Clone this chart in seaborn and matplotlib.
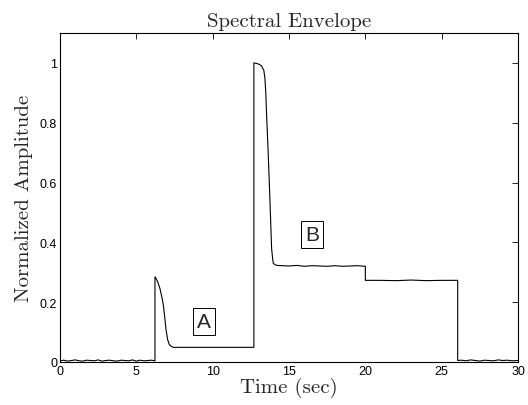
import numpy as np
import pandas as pd

import matplotlib
matplotlib.use('Agg')
import matplotlib.pyplot as plt
import seaborn as sns

sns.set_style('white')

# --- data ---
# quiet part before the first onset
noise_pre_t = [0.0, 0.25, 0.5, 0.75, 1.0, 1.25, 1.5, 1.75, 2.0, 2.25, 2.5, 2.75,
               3.0, 3.25, 3.5, 3.75, 4.0, 4.25, 4.5, 4.75, 5.0, 5.25, 5.5, 5.75, 6.0, 6.2]
noise_pre_a = [0.004, 0.006, 0.003, 0.005, 0.007, 0.004, 0.003, 0.006, 0.005, 0.004,
               0.007, 0.003, 0.005, 0.006, 0.004, 0.003, 0.006, 0.005, 0.004, 0.007,
               0.003, 0.006, 0.004, 0.005, 0.006, 0.004]

# segment A: onset, decay, low plateau
seg_a_t = [6.22, 6.22, 6.3, 6.4, 6.55, 6.68, 6.77, 6.86, 6.94, 7.05, 7.16, 7.3, 7.42,
           8.5, 9.5, 10.5, 11.5, 12.7]
seg_a_a = [0.004, 0.285, 0.278, 0.268, 0.245, 0.215, 0.19, 0.15, 0.11, 0.075, 0.058,
           0.052, 0.049, 0.049, 0.049, 0.049, 0.049, 0.049]

# segment B: onset, decay, plateau, step down
seg_b_t = [12.7, 12.7, 12.9, 13.05, 13.2, 13.35, 13.42, 13.48, 13.53, 13.62, 13.71,
           13.8, 13.86, 13.93, 13.97, 14.1, 14.19, 15.0, 15.5, 16.0, 16.5, 17.0, 17.5,
           18.0, 18.5, 19.0, 19.5, 20.0, 20.0, 21.0, 22.0, 23.0, 24.0, 25.0, 26.05]
seg_b_a = [0.049, 1.0, 0.998, 0.995, 0.99, 0.975, 0.95, 0.9, 0.83, 0.72, 0.6,
           0.47, 0.38, 0.345, 0.33, 0.325, 0.323, 0.321, 0.323, 0.32, 0.322, 0.321, 0.32,
           0.322, 0.32, 0.321, 0.322, 0.32, 0.273, 0.273, 0.272, 0.274, 0.272, 0.273, 0.273]

# quiet part after the sound ends
noise_post_t = [26.05, 26.3, 26.6, 26.9, 27.2, 27.5, 27.8, 28.1, 28.4, 28.7, 29.0, 29.3, 29.6, 30.0]
noise_post_a = [0.005, 0.006, 0.004, 0.007, 0.005, 0.003, 0.006, 0.005, 0.004, 0.007,
                0.005, 0.006, 0.004, 0.005]

xticks = [0, 5, 10, 15, 20, 25, 30]
yticks = [0, 0.2, 0.4, 0.6, 0.8, 1]
ytick_labels = ['0', '0.2', '0.4', '0.6', '0.8', '1']

labels = ['A', 'B']
label_t = [9.41, 16.52]
label_a = [0.135, 0.426]

df = pd.DataFrame({
    'Time': noise_pre_t + seg_a_t + seg_b_t + noise_post_t,
    'Amp': noise_pre_a + seg_a_a + seg_b_a + noise_post_a,
})

fig = plt.figure(figsize=(5.28, 4.06), dpi=100)
ax = fig.add_axes([60/528, 43/406, 458/528, 329/406])

sns.lineplot(data=df, x='Time', y='Amp', sort=False, estimator=None,
             color='black', linewidth=0.8, ax=ax)

ax.set_xlim(0, 30)
ax.set_ylim(0, 1.1)
ax.set_xticks(xticks)
ax.set_xticklabels([str(t) for t in xticks])
ax.set_yticks(yticks)
ax.set_yticklabels(ytick_labels)
ax.tick_params(direction='in', length=4, width=0.6, top=True, right=True,
               labelsize=9, pad=2, colors='black')
for lab in ax.get_xticklabels() + ax.get_yticklabels():
    lab.set_fontfamily('Liberation Sans')
for sp in ax.spines.values():
    sp.set_color('black')
    sp.set_linewidth(0.8)

serif = 'cmr10'
ax.set_title('Spectral Envelope', fontfamily=serif, fontsize=15, pad=5)
ax.set_xlabel('Time (sec)', fontfamily=serif, fontsize=15, labelpad=0)
ax.set_ylabel('Normalized Amplitude', fontfamily=serif, fontsize=15, labelpad=5)

for txt, t, a in zip(labels, label_t, label_a):
    ax.text(t, a, txt, ha='center', va='center', fontsize=15,
            fontfamily='Liberation Sans',
            bbox=dict(boxstyle='square,pad=0.2', fc='white', ec='black', lw=0.7))

fig.savefig('out.png', dpi=100)
plt.close(fig)
